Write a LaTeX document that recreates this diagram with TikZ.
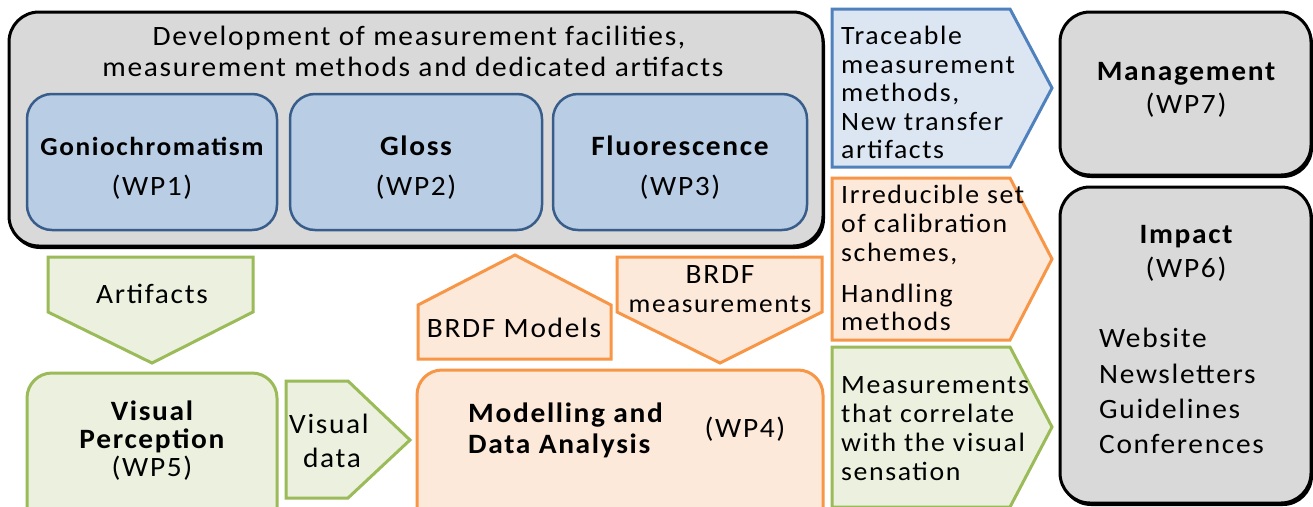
\documentclass[tikz,border=0pt]{standalone}
\usepackage{fontspec}
\setmainfont{Carlito}[FakeStretch=1.05, LetterSpace=6]
\definecolor{grayfill}{HTML}{D9D9D9}
\definecolor{wpfill}{HTML}{B9CDE5}
\definecolor{wpline}{HTML}{385D8A}
\definecolor{outblue}{HTML}{DCE6F2}
\definecolor{outblueline}{HTML}{4F81BD}
\definecolor{orfill}{HTML}{FDE9D9}
\definecolor{orline}{HTML}{F79646}
\definecolor{grfill}{HTML}{EBF1DE}
\definecolor{grline}{HTML}{9BBB59}
\tikzset{
  txt/.style={inner sep=0pt, anchor=base, font=\fontsize{28}{32}\selectfont},
  btxt/.style={txt, font=\fontsize{28}{32}\selectfont\bfseries},
  ltxt/.style={txt, anchor=base west, font=\fontsize{26.5}{30}\selectfont},
  graybox/.style={fill=grayfill, draw=black, line width=3pt, rounded corners=30pt},
  boxshadow/.style={fill=black, rounded corners=30pt},
  wpbox/.style={fill=wpfill, draw=wpline, line width=2.5pt, rounded corners=25pt},
  orbox/.style={fill=orfill, draw=orline, line width=3pt, rounded corners=25pt},
  grbox/.style={fill=grfill, draw=grline, line width=3pt, rounded corners=25pt},
  blueshape/.style={fill=outblue, draw=outblueline, line width=3pt, line join=miter},
  orshape/.style={fill=orfill, draw=orline, line width=3pt, line join=miter},
  grshape/.style={fill=grfill, draw=grline, line width=3pt, line join=miter},
}
\begin{document}
\begin{tikzpicture}[x=1pt,y=-1pt]
\useasboundingbox (0,0) rectangle (1313,506);
\clip (0,0) rectangle (1313,506);
\fill[white] (0,0) rectangle (1313,506);

% main development block
\path[boxshadow] (10,15) rectangle (825,249);
\path[graybox] (9,12) rectangle (823,246);
\node[txt] (title1) at (419,45) {Development of measurement facilities,};
\node[txt] (title2) at (413,76) {measurement methods and dedicated artifacts};

% work packages 1-3
\path[wpbox] (27,94) rectangle (277,230);
\node[btxt, font=\fontsize{26}{30}\selectfont\bfseries] (wp1a) at (152,155) {Goniochromatism};
\node[txt] (wp1b) at (152,195) {(WP1)};
\path[wpbox] (290,94) rectangle (542,230);
\node[btxt] (wp2a) at (416,155) {Gloss};
\node[txt] (wp2b) at (416,195) {(WP2)};
\path[wpbox] (553,94) rectangle (807,230);
\node[btxt] (wp3a) at (680,155) {Fluorescence};
\node[txt] (wp3b) at (680,195) {(WP3)};

% outcome arrows
\path[blueshape] (832,9) -- (1010,9) -- (1052,88) -- (1010,167) -- (832,167) -- cycle;
\foreach \k/\y/\t in {1/44/Traceable, 2/73/measurement, 3/101/{methods,}, 4/130/New transfer, 5/158/artifacts}
  \node[ltxt] (trace\k) at (841,\y) {\t};
\path[orshape] (832,178) -- (1010,178) -- (1052,259) -- (1010,340) -- (832,340) -- cycle;
\foreach \k/\y/\t in {1/203/Irreducible set, 2/232/of calibration, 3/261/{schemes,}, 4/302/Handling, 5/330/methods}
  \node[ltxt] (irred\k) at (841,\y) {\t};
\path[grshape] (832,347) -- (1010,347) -- (1052,427) -- (1010,507) -- (832,507) -- cycle;
\foreach \k/\y/\t in {1/393/Measurements, 2/422/that correlate, 3/451/with the visual, 4/480/sensation}
  \node[ltxt] (corr\k) at (841,\y) {\t};

% management and impact
\path[boxshadow] (1061,14) rectangle (1313,178);
\path[graybox] (1060,12) rectangle (1311,175);
\node[btxt] (mgmt) at (1186,80) {Management};
\node[txt] (wp7) at (1186,113) {(WP7)};
\path[boxshadow] (1061,189) rectangle (1313,506);
\path[graybox] (1060,187) rectangle (1311,503);
\node[btxt] (impact) at (1186,243) {Impact};
\node[txt] (wp6) at (1186,277) {(WP6)};
\foreach \k/\y/\t in {1/347/Website, 2/383/Newsletters, 3/418/Guidelines, 4/453/Conferences}
  \node[ltxt, font=\fontsize{28}{32}\selectfont] (dissem\k) at (1099,\y) {\t};

% lower row
\path[grshape] (48,257) -- (253,257) -- (253,312) -- (152,363) -- (48,312) -- cycle;
\node[txt] (artif) at (152,303) {Artifacts};
\path[grbox] (27,373) rectangle (277,540);
\node[btxt] (wp5a) at (152,420) {Visual};
\node[btxt] (wp5b) at (152,448) {Perception};
\node[txt] (wp5c) at (152,476) {(WP5)};
\path[grshape] (286,381) -- (348,381) -- (410,440) -- (348,498) -- (286,498) -- cycle;
\node[txt] (vis1) at (329,433) {Visual};
\node[txt] (vis2) at (332,467) {data};

\path[orshape] (418,359) -- (418,305) -- (515,255) -- (611,305) -- (611,359) -- cycle;
\node[txt] (models) at (514,337) {BRDF Models};
\path[orshape] (617,257) -- (822,257) -- (822,312) -- (720,363) -- (617,312) -- cycle;
\node[txt] (meas1) at (720,283) {BRDF};
\node[txt, font=\fontsize{26}{30}\selectfont] (meas2) at (720,312) {measurements};
\path[orbox] (417,370) rectangle (823,540);
\node[btxt, anchor=base west] (wp4a) at (468,422) {Modelling and};
\node[btxt, anchor=base west] (wp4b) at (468,453) {Data Analysis};
\node[txt] (wp4c) at (745,437) {(WP4)};
\end{tikzpicture}
\end{document}
